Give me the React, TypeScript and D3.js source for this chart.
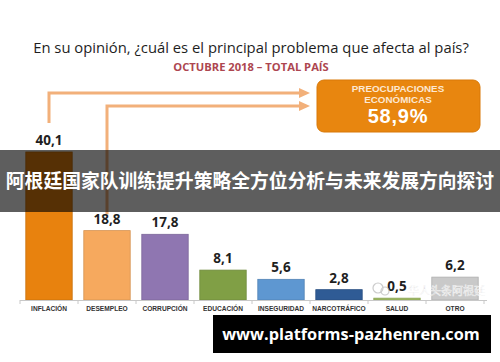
import React, { useEffect, useRef } from "react";
import * as d3 from "d3";

const categories = [
  "INFLACIÓN",
  "DESEMPLEO",
  "CORRUPCIÓN",
  "EDUCACIÓN",
  "INSEGURIDAD",
  "NARCOTRÁFICO",
  "SALUD",
  "OTRO",
];
const values = [40.1, 18.8, 17.8, 8.1, 5.6, 2.8, 0.5, 6.2];
const valueLabels = ["40,1", "18,8", "17,8", "8,1", "5,6", "2,8", "0,5", "6,2"];
const barColors = [
  "#e8820e",
  "#f6a95e",
  "#8f76b1",
  "#809f45",
  "#5e97d1",
  "#2f5b95",
  "#9fbb62",
  "#c9c9c9",
];
const economicCategories = ["INFLACIÓN", "DESEMPLEO"];
const economicTotal = "58,9%";

const W = 500;
const H = 362;

const App: React.FC = () => {
  const ref = useRef<SVGSVGElement | null>(null);

  useEffect(() => {
    const svg = d3.select(ref.current);
    svg.selectAll("*").remove();

    const left = 20;
    const right = 484;
    const base = 300;

    const x = d3.scaleBand().domain(categories).range([left, right]).paddingInner(0.2).paddingOuter(0.1);
    const y = d3.scaleLinear().domain([0, 40.1]).range([base, 152]);

    svg.append("rect").attr("width", W).attr("height", H).attr("fill", "#fff");

    // title
    svg
      .append("text")
      .attr("x", 251)
      .attr("y", 53)
      .attr("text-anchor", "middle")
      .style("font-family", "'Open Sans', sans-serif")
      .style("font-size", "14.8px")
      .attr("fill", "#1e1e1e")
      .text("En su opinión, ¿cuál es el principal problema que afecta al país?");

    svg
      .append("text")
      .attr("x", 251)
      .attr("y", 71)
      .attr("text-anchor", "middle")
      .style("font-family", "'Open Sans', sans-serif")
      .style("font-size", "11.2px")
      .style("font-weight", "bold")
      .attr("fill", "#ad4650")
      .text("OCTUBRE 2018 – TOTAL PAÍS");

    // arrows from economic bars to the box
    const arrowColor = "#f2b07a";
    const arrowEnd = 310;
    const arrowY = [93, 106];
    const arrowGap = [29, 16];
    economicCategories.forEach((c, i) => {
      const cx = (x(c) as number) + x.bandwidth() / 2;
      const ay = arrowY[i];
      const by = y(values[categories.indexOf(c)]) - arrowGap[i];
      svg
        .append("path")
        .attr("d", `M${cx},${by} L${cx},${ay} L${arrowEnd - 9},${ay}`)
        .attr("fill", "none")
        .attr("stroke", arrowColor)
        .attr("stroke-width", 3);
      svg
        .append("path")
        .attr("d", `M${arrowEnd - 11},${ay - 5} L${arrowEnd},${ay} L${arrowEnd - 11},${ay + 5} Z`)
        .attr("fill", arrowColor);
    });

    // economic box
    svg
      .append("rect")
      .attr("x", 317)
      .attr("y", 80)
      .attr("width", 163)
      .attr("height", 52)
      .attr("rx", 7)
      .attr("fill", "#e8860f")
      .attr("stroke", "#d97908")
      .attr("stroke-width", 1);
    const boxText = svg
      .append("g")
      .style("font-family", "'Liberation Sans', sans-serif")
      .style("font-weight", "bold")
      .attr("text-anchor", "middle");
    boxText
      .append("text")
      .attr("x", 398)
      .attr("y", 92)
      .style("font-size", "9.8px")
      .attr("fill", "#fde8d2")
      .text("PREOCUPACIONES");
    boxText
      .append("text")
      .attr("x", 398)
      .attr("y", 103)
      .style("font-size", "9.8px")
      .attr("fill", "#fde8d2")
      .text("ECONÓMICAS");
    boxText
      .append("text")
      .attr("x", 398)
      .attr("y", 123)
      .style("font-size", "20px")
      .style("letter-spacing", "0.8px")
      .attr("fill", "#fff")
      .text(economicTotal);

    // bars
    svg
      .append("g")
      .selectAll("rect")
      .data(categories)
      .join("rect")
      .attr("x", (d) => x(d) as number)
      .attr("y", (d, i) => y(values[i]))
      .attr("width", x.bandwidth())
      .attr("height", (d, i) => base - y(values[i]))
      .attr("fill", (d, i) => barColors[i])
      .attr("stroke", (d, i) => d3.color(barColors[i])!.darker(0.4).formatHex())
      .attr("stroke-width", 0.8);

    // value labels
    svg
      .append("g")
      .selectAll("text")
      .data(categories)
      .join("text")
      .attr("x", (d) => (x(d) as number) + x.bandwidth() / 2)
      .attr("y", (d, i) => y(values[i]) - 7)
      .attr("text-anchor", "middle")
      .style("font-family", "'Open Sans', sans-serif")
      .style("font-size", "13.5px")
      .style("font-weight", "bold")
      .attr("fill", "#1f1f1f")
      .text((d, i) => valueLabels[i]);

    // axis
    const step = x.step();
    const axis = svg.append("g").attr("stroke", "#c8c8c8").attr("stroke-width", 1);
    axis.append("line").attr("x1", left).attr("x2", right + 3).attr("y1", base + 0.5).attr("y2", base + 0.5);
    d3.range(categories.length + 1).forEach((i) => {
      const tx = left + i * step;
      axis.append("line").attr("x1", tx).attr("x2", tx).attr("y1", base).attr("y2", base + 4);
    });

    svg
      .append("g")
      .selectAll("text")
      .data(categories)
      .join("text")
      .attr("x", (d) => (x(d) as number) + x.bandwidth() / 2)
      .attr("y", 311)
      .attr("text-anchor", "middle")
      .style("font-family", "'Liberation Sans', sans-serif")
      .style("font-size", "6.6px")
      .style("font-weight", "bold")
      .attr("fill", "#333")
      .text((d) => d);

    // watermark
    const wm = svg.append("g").attr("opacity", 0.75);
    wm.append("circle").attr("cx", 378).attr("cy", 288).attr("r", 5).attr("fill", "none").attr("stroke", "#bbb").attr("stroke-width", 1.2);
    wm.append("circle").attr("cx", 385).attr("cy", 291).attr("r", 4).attr("fill", "none").attr("stroke", "#bbb").attr("stroke-width", 1.2);
    wm.append("text")
      .attr("x", 408)
      .attr("y", 295)
      .style("font-family", "'Noto Sans CJK SC', sans-serif")
      .style("font-size", "11px")
      .attr("fill", "#b5b5b5")
      .attr("stroke", "#fff")
      .attr("stroke-width", 0.6)
      .text("华人头条阿根廷");

    // overlay banner
    svg.append("rect").attr("x", 0).attr("y", 150).attr("width", W).attr("height", 62).attr("fill", "rgba(0,0,0,0.63)");
    svg
      .append("text")
      .attr("x", W / 2)
      .attr("y", 188)
      .attr("text-anchor", "middle")
      .style("font-family", "'Noto Sans CJK SC', sans-serif")
      .style("font-size", "18.8px")
      .style("font-weight", "bold")
      .attr("fill", "#fff")
      .text("阿根廷国家队训练提升策略全方位分析与未来发展方向探讨");

    // url banner
    svg.append("rect").attr("x", 213).attr("y", 315).attr("width", 278).attr("height", 38).attr("fill", "#000");
    svg
      .append("text")
      .attr("x", 351)
      .attr("y", 340)
      .attr("text-anchor", "middle")
      .style("font-family", "'Open Sans', sans-serif")
      .style("font-size", "16.3px")
      .style("font-weight", "bold")
      .attr("fill", "#fff")
      .text("www.platforms-pazhenren.com");
  }, []);

  return (
    <div>
      <style>{"body{margin:0}"}</style>
      <svg ref={ref} width={W} height={H} style={{ display: "block" }} />
    </div>
  );
};

export default App;
